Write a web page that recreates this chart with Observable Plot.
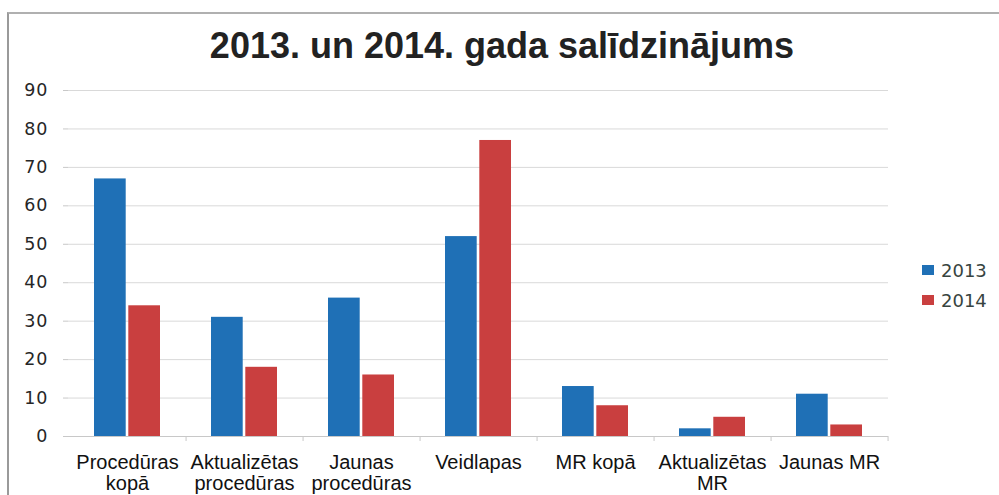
<!DOCTYPE html>
<html>
<head>
<meta charset="utf-8">
<script src="https://cdn.jsdelivr.net/npm/d3@7"></script>
<script src="https://cdn.jsdelivr.net/npm/@observablehq/plot@0.6"></script>
<style>
  html, body { margin: 0; padding: 0; background: #fff; }
  #wrap { position: relative; width: 999px; height: 495px; overflow: hidden; }
  #frame { position: absolute; left: 7px; top: 12px; width: 1100px; height: 600px;
           border-left: 2px solid #9a9a9a; border-top: 2px solid #b0b0b0; }
  #title { position: absolute; left: 0; width: 1004px; top: 25px; text-align: center;
           font-family: "Liberation Sans", Arial, sans-serif; font-weight: bold; font-size: 36px; color: #222; }
  #legend { position: absolute; left: 922px; top: 255px; font-family: "DejaVu Sans", sans-serif;
            font-size: 18px; color: #37443f; }
  .item { display: flex; align-items: center; height: 30px; }
  .sw { width: 12px; height: 10px; margin-right: 7px; }
  #chart { position: absolute; left: 0; top: 0; }
  #chart svg g[aria-label="y-axis tick label"] text { letter-spacing: 1px; }
</style>
</head>
<body>
<div id="wrap">
  <div id="frame"></div>
  <div id="chart"></div>
  <div id="title"></div>
  <div id="legend"></div>
</div>
<script>
const title = "2013. un 2014. gada salīdzinājums";
const categories = ["Procedūras\nkopā", "Aktualizētas\nprocedūras", "Jaunas\nprocedūras", "Veidlapas", "MR kopā", "Aktualizētas\nMR", "Jaunas MR"];
const series = ["2013", "2014"];
const values2013 = [67, 31, 36, 52, 13, 2, 11];
const values2014 = [34, 18, 16, 77, 8, 5, 3];
const colors = ["#1f70b6", "#c93f3f"];
const yTicks = [0, 10, 20, 30, 40, 50, 60, 70, 80, 90];

const data2013 = categories.map((c, i) => ({category: c, year: series[0], value: values2013[i]}));
const data2014 = categories.map((c, i) => ({category: c, year: series[1], value: values2014[i]}));

const W = 999, H = 495, ml = 68, mr = 111, mt = 90, mb = 59;
const step = (W - ml - mr) / categories.length;
const bw = step * 0.56;
const inset = bw / 2 + 1.5;

const chart = Plot.plot({
  width: W, height: H,
  marginLeft: ml, marginRight: mr, marginTop: mt, marginBottom: mb,
  style: {background: "transparent", fontFamily: "DejaVu Sans, sans-serif", color: "#333"},
  x: {domain: categories, paddingInner: 0.44, paddingOuter: 0.22, label: null},
  y: {domain: [0, 90], label: null},
  marks: [
    Plot.gridY(yTicks, {stroke: "#d9d9d9", strokeOpacity: 1}),
    Plot.barY(data2013, {x: "category", y: "value", fill: colors[0], insetRight: inset}),
    Plot.barY(data2014, {x: "category", y: "value", fill: colors[1], insetLeft: inset}),
    Plot.ruleY([0], {stroke: "#c8c8c8"}),
    Plot.axisY(yTicks, {tickSize: 5, tickPadding: 15, fontSize: 17.5, stroke: "#c8c8c8", line: true,
      tickFormat: d => String(d), fill: "#262626"}),
    Plot.axisX({tickSize: 5, text: null, dx: step / 2, stroke: "#c8c8c8"}),
    Plot.axisX({tickSize: 0, tickPadding: 18, fontSize: 20, lineHeight: 1.03, fontFamily: "Liberation Sans, Arial, sans-serif", fill: "#111"})
  ]
});
document.getElementById("chart").appendChild(chart);
document.getElementById("title").textContent = title;

const legend = document.getElementById("legend");
series.forEach((s, i) => {
  const it = document.createElement("div");
  it.className = "item";
  const sw = document.createElement("div");
  sw.className = "sw";
  sw.style.background = colors[i];
  const t = document.createElement("span");
  t.textContent = s;
  it.appendChild(sw); it.appendChild(t);
  legend.appendChild(it);
});
</script>
</body>
</html>
